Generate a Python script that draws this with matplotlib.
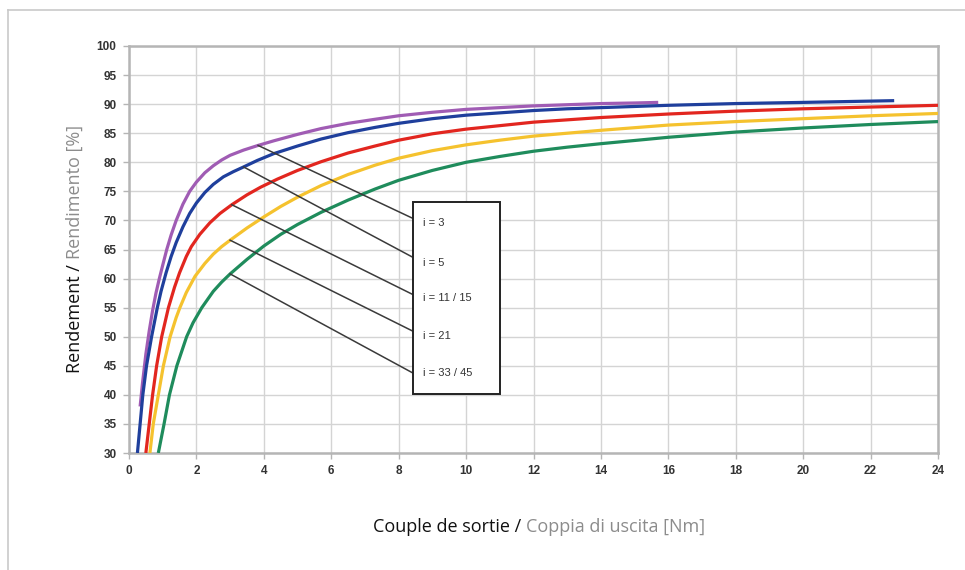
"""
Rendement en fonction du couple de sortie, par rapport de réduction i.
"""
import numpy as np
import matplotlib
matplotlib.use("Agg")
import matplotlib.pyplot as plt
from matplotlib.lines import Line2D
from matplotlib.patches import Rectangle

# ── Data (couple [Nm], rendement [%]) ──────────────────────────────────
t_i3 = [0.33, 0.40, 0.50, 0.60, 0.70, 0.80, 0.90, 1.00, 1.12, 1.25, 1.40,
        1.60, 1.80, 2.00, 2.25, 2.50, 2.75, 3.00, 3.40, 3.83, 4.30, 5.00,
        5.70, 6.50, 7.30, 8.00, 9.00, 10.0, 11.0, 12.0, 13.0, 14.0, 15.0, 15.7]
eta_i3 = [38.0, 42.0, 47.0, 51.0, 54.5, 57.5, 60.0, 62.3, 65.0, 67.5, 70.0,
          72.8, 75.0, 76.6, 78.2, 79.4, 80.4, 81.2, 82.1, 82.9, 83.7, 84.8,
          85.8, 86.7, 87.4, 88.0, 88.6, 89.1, 89.4, 89.7, 89.9, 90.1, 90.2, 90.3]

t_i5 = [0.25, 0.33, 0.41, 0.52, 0.67, 0.84, 0.95, 1.10, 1.25, 1.40, 1.60,
        1.80, 2.00, 2.25, 2.50, 2.80, 3.10, 3.40, 3.80, 4.30, 5.00, 5.70,
        6.50, 7.30, 8.00, 9.00, 10.0, 11.0, 12.0, 13.0, 14.0, 16.0, 18.0,
        20.0, 22.7]
eta_i5 = [30.0, 35.0, 40.0, 45.0, 50.0, 55.0, 57.8, 61.0, 63.8, 66.2, 68.9,
          71.2, 73.0, 74.8, 76.2, 77.5, 78.4, 79.2, 80.3, 81.5, 82.8, 84.0,
          85.1, 86.0, 86.7, 87.5, 88.1, 88.5, 88.9, 89.2, 89.4, 89.8, 90.1,
          90.3, 90.6]

t_i11 = [0.50, 0.60, 0.70, 0.82, 0.97, 1.17, 1.35, 1.50, 1.70, 1.85, 2.10,
         2.40, 2.70, 3.05, 3.50, 3.90, 4.40, 5.00, 5.70, 6.50, 7.30, 8.00,
         9.00, 10.0, 11.0, 12.0, 13.0, 14.0, 16.0, 18.0, 20.0, 22.0, 24.0]
eta_i11 = [30.0, 35.0, 40.0, 45.0, 50.0, 55.0, 58.5, 61.0, 63.8, 65.5, 67.6,
           69.6, 71.2, 72.7, 74.4, 75.7, 77.1, 78.6, 80.1, 81.6, 82.8, 83.8,
           84.9, 85.7, 86.3, 86.9, 87.3, 87.7, 88.3, 88.8, 89.2, 89.5, 89.8]

t_i21 = [0.62, 0.72, 0.87, 1.02, 1.22, 1.40, 1.51, 1.70, 1.96, 2.25, 2.50,
         2.75, 3.00, 3.50, 4.00, 4.50, 5.00, 5.70, 6.50, 7.30, 8.00, 9.00,
         10.0, 11.0, 12.0, 13.0, 14.0, 16.0, 18.0, 20.0, 22.0, 24.0]
eta_i21 = [30.0, 35.0, 40.0, 45.0, 50.0, 53.3, 55.0, 57.6, 60.4, 62.6, 64.2,
           65.5, 66.6, 68.7, 70.6, 72.4, 74.0, 76.0, 77.9, 79.5, 80.7, 82.0,
           83.0, 83.8, 84.5, 85.0, 85.5, 86.4, 87.0, 87.5, 88.0, 88.4]

t_i33 = [0.87, 1.04, 1.20, 1.42, 1.71, 1.90, 2.16, 2.50, 2.75, 3.00, 3.50,
         4.00, 4.50, 5.00, 5.70, 6.50, 7.30, 8.00, 9.00, 10.0, 11.0, 12.0,
         13.0, 14.0, 16.0, 18.0, 20.0, 22.0, 24.0]
eta_i33 = [30.0, 35.0, 40.0, 45.0, 50.0, 52.4, 55.0, 57.8, 59.4, 60.8, 63.3,
           65.6, 67.6, 69.3, 71.4, 73.5, 75.4, 76.9, 78.6, 80.0, 81.0, 81.9,
           82.6, 83.2, 84.3, 85.2, 85.9, 86.5, 87.0]

labels = ["i = 3", "i = 5", "i = 11 / 15", "i = 21", "i = 33 / 45"]
colors = ["#a05cb4", "#1f3f9c", "#e2261f", "#f5c22e", "#1f8c5c"]
series = [(t_i3, eta_i3), (t_i5, eta_i5), (t_i11, eta_i11),
          (t_i21, eta_i21), (t_i33, eta_i33)]

# where each leader line touches its curve (torque) and meets the box (rendement)
leader_t = [3.83, 3.4, 3.05, 3.0, 3.0]
leader_box_eta = [70.3, 63.6, 57.2, 50.9, 43.7]
label_eta = [69.6, 62.6, 56.7, 50.1, 43.7]
box_t = (8.44, 11.01)
box_eta = (40.2, 73.2)

W, H = 965, 570
fig = plt.figure(figsize=(W / 100, H / 100), dpi=100)
ax = fig.add_axes([129 / W, 1 - 453 / H, (938 - 129) / W, (453 - 46) / H])

# outer frame (top and left edges only)
for xs, ys in (([8 / W, 1.0], [1 - 10 / H] * 2), ([8 / W] * 2, [0.0, 1 - 10 / H])):
    fig.add_artist(Line2D(xs, ys, transform=fig.transFigure,
                          color="#c9c9c9", lw=1.2))

for (t, eta), c in zip(series, colors):
    ax.plot(t, eta, color=c, lw=2.3, solid_capstyle="butt",
            solid_joinstyle="round", zorder=3)

# leader lines + label box
for (t, eta), lt, be in zip(series, leader_t, leader_box_eta):
    ax.plot([lt, box_t[0]], [np.interp(lt, t, eta), be],
            color="#3a3a3a", lw=1.1, zorder=4)
ax.add_patch(Rectangle((box_t[0], box_eta[0]), box_t[1] - box_t[0],
                       box_eta[1] - box_eta[0], facecolor="white",
                       edgecolor="#222222", lw=1.4, zorder=5))
for lab, y in zip(labels, label_eta):
    ax.text(box_t[0] + 0.29, y, lab, fontsize=8, color="#333333",
            family="Liberation Sans", va="center", ha="left", zorder=6)

ax.set_xlim(0, 24)
ax.set_ylim(30, 100)
ax.set_xticks(np.arange(0, 25, 2))
ax.set_yticks(np.arange(30, 101, 5))
ax.grid(True, color="#d4d4d4", lw=1.0)
ax.set_axisbelow(True)
for sp in ax.spines.values():
    sp.set_color("#b5b5b5")
    sp.set_linewidth(1.8)
ax.tick_params(length=4, width=1, color="#b5b5b5", pad=5,
               labelsize=8.5, labelcolor="#333333")
for lab in ax.get_xticklabels() + ax.get_yticklabels():
    lab.set_fontweight("bold")
    lab.set_family("Liberation Sans")

# two-tone axis titles
fig.canvas.draw()
rend = fig.canvas.get_renderer()


def two_tone(parts, cx, cy, vertical=False):
    """Place coloured pieces of text one after another, centred on (cx, cy) px."""
    arts = [fig.text(0, 0, txt, color=col, fontsize=13, family="Open Sans",
                     rotation=90 if vertical else 0,
                     ha="center" if vertical else "left",
                     va="bottom" if vertical else "center")
            for txt, col in parts]
    sizes = [a.get_window_extent(rend) for a in arts]
    if vertical:
        pos = (H - cy) - sum(b.height for b in sizes) / 2
        for a, b in zip(arts, sizes):
            a.set_position((cx / W, pos / H))
            pos += b.height
    else:
        pos = cx - sum(b.width for b in sizes) / 2
        for a, b in zip(arts, sizes):
            a.set_position((pos / W, 1 - cy / H))
            pos += b.width


two_tone([("Couple de sortie / ", "#111111"),
          ("Coppia di uscita [Nm]", "#8c8c8c")], 539, 527)
two_tone([("Rendement / ", "#111111"),
          ("Rendimento [%]", "#8c8c8c")], 75, 249, vertical=True)

fig.savefig("out.png", dpi=100)
